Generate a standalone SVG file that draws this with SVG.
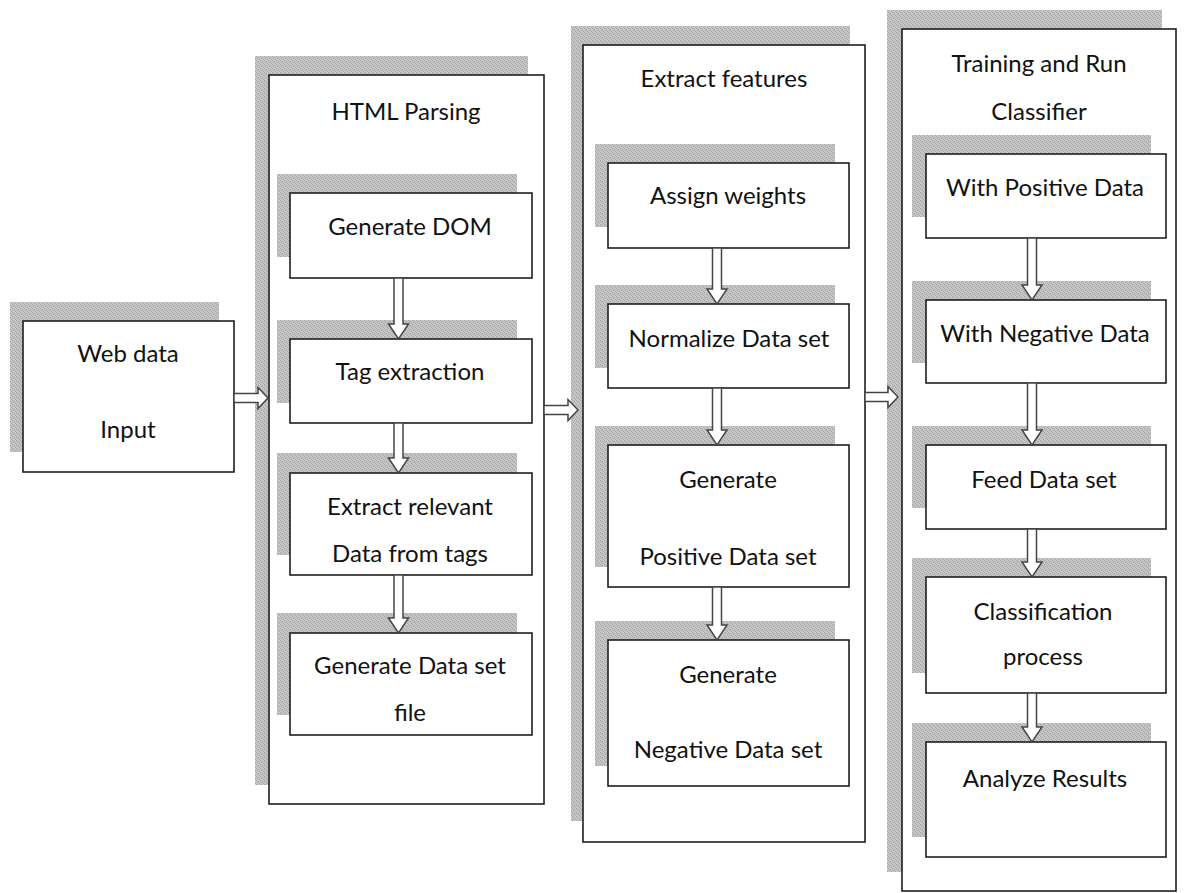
<svg xmlns="http://www.w3.org/2000/svg" width="1185" height="893" viewBox="0 0 1185 893">
<defs>
<pattern id="dots" width="4" height="4" patternUnits="userSpaceOnUse">
<rect width="4" height="4" fill="#c2c2c2"/>
<rect x="0" y="0" width="1" height="1" fill="#a4a4a4"/>
<rect x="2" y="1" width="1" height="1" fill="#a8a8a8"/>
<rect x="1" y="2" width="1" height="1" fill="#b0a8b0"/>
<rect x="3" y="3" width="1" height="1" fill="#a6a6a6"/>
<rect x="3" y="0" width="1" height="1" fill="#d0d0d0"/>
<rect x="1" y="3" width="1" height="1" fill="#cfcfcf"/>
</pattern>
<style>
.sh{fill:url(#dots);stroke:none}
.bx{fill:#fff;stroke:#1e1e1e;stroke-width:1.6}
.t{font-family:Lato,"Open Sans","Liberation Sans",sans-serif;font-size:24px;fill:#111;text-anchor:middle}
.ar{fill:#fff;stroke:#454545;stroke-width:1.5;stroke-linejoin:miter}
</style>
</defs>
<rect width="1185" height="893" fill="#fff"/>

<g id="web-data">
<rect class="sh" x="10" y="302" width="209" height="150"/>
<rect class="bx" x="23" y="321" width="211" height="151"/>
<text class="t" x="128" y="362">Web data</text>
<text class="t" x="128" y="438">Input</text>
</g>

<g id="html-parsing">
<rect class="sh" x="255" y="56" width="273" height="729"/>
<rect class="bx" x="269" y="75" width="275" height="729"/>
<text class="t" x="406" y="120">HTML Parsing</text>
</g>

<g id="extract-features">
<rect class="sh" x="571" y="26" width="279" height="795"/>
<rect class="bx" x="583" y="45" width="282" height="797"/>
<text class="t" x="724" y="87">Extract features</text>
</g>

<g id="training">
<rect class="sh" x="887" y="10" width="275" height="862"/>
<rect class="bx" x="902" y="29" width="274" height="862"/>
<text class="t" x="1039" y="72">Training and Run</text>
<text class="t" x="1039" y="120">Classifier</text>
</g>

<g id="generate-dom">
<rect class="sh" x="277" y="174" width="240" height="83"/>
<rect class="bx" x="290" y="193" width="242" height="85"/>
<text class="t" x="410" y="235">Generate DOM</text>
</g>
<g id="tag-extraction">
<rect class="sh" x="277" y="320" width="240" height="83"/>
<rect class="bx" x="290" y="339" width="242" height="84"/>
<text class="t" x="410" y="380">Tag extraction</text>
</g>
<g id="extract-relevant">
<rect class="sh" x="277" y="453" width="240" height="102"/>
<rect class="bx" x="290" y="473" width="242" height="102"/>
<text class="t" x="410" y="515">Extract relevant</text>
<text class="t" x="410" y="562">Data from tags</text>
</g>
<g id="generate-dataset-file">
<rect class="sh" x="277" y="613" width="240" height="102"/>
<rect class="bx" x="290" y="633" width="242" height="102"/>
<text class="t" x="410" y="674">Generate Data set</text>
<text class="t" x="410" y="721">file</text>
</g>

<g id="assign-weights">
<rect class="sh" x="595" y="144" width="240" height="83"/>
<rect class="bx" x="608" y="163" width="241" height="85"/>
<text class="t" x="728" y="204">Assign weights</text>
</g>
<g id="normalize">
<rect class="sh" x="595" y="285" width="240" height="83"/>
<rect class="bx" x="608" y="304" width="241" height="84"/>
<text class="t" x="729" y="347">Normalize Data set</text>
</g>
<g id="generate-positive">
<rect class="sh" x="595" y="426" width="240" height="141"/>
<rect class="bx" x="608" y="445" width="241" height="142"/>
<text class="t" x="728" y="488">Generate</text>
<text class="t" x="728" y="565">Positive Data set</text>
</g>
<g id="generate-negative">
<rect class="sh" x="595" y="621" width="240" height="145"/>
<rect class="bx" x="608" y="640" width="241" height="146"/>
<text class="t" x="728" y="683">Generate</text>
<text class="t" x="728" y="758">Negative Data set</text>
</g>

<g id="with-positive">
<rect class="sh" x="912" y="135" width="239" height="82"/>
<rect class="bx" x="926" y="154" width="240" height="84"/>
<text class="t" x="1045" y="196">With Positive Data</text>
</g>
<g id="with-negative">
<rect class="sh" x="912" y="281" width="239" height="82"/>
<rect class="bx" x="926" y="300" width="240" height="83"/>
<text class="t" x="1045" y="342">With Negative Data</text>
</g>
<g id="feed-dataset">
<rect class="sh" x="912" y="426" width="239" height="82"/>
<rect class="bx" x="926" y="445" width="240" height="84"/>
<text class="t" x="1044" y="488">Feed Data set</text>
</g>
<g id="classification">
<rect class="sh" x="912" y="558" width="239" height="115"/>
<rect class="bx" x="926" y="577" width="240" height="116"/>
<text class="t" x="1043" y="620">Classification</text>
<text class="t" x="1043" y="665">process</text>
</g>
<g id="analyze-results">
<rect class="sh" x="912" y="723" width="239" height="114"/>
<rect class="bx" x="926" y="742" width="240" height="115"/>
<text class="t" x="1045" y="787">Analyze Results</text>
</g>

<g id="connectors">
<path class="ar" d="M234,393.5 H258 V387.5 L268,398 L258,408.5 V402.5 H234 Z"/>
<path class="ar" d="M544,405.5 H568 V399.5 L578,410 L568,420.5 V414.5 H544 Z"/>
<path class="ar" d="M865,392.5 H888 V386.5 L898,397 L888,407.5 V401.5 H865 Z"/>

<path class="ar" d="M394,278 V324 H388.5 L398.5,339 L408.5,324 H403 V278 Z"/>
<path class="ar" d="M394,423 V458 H388.5 L398.5,473 L408.5,458 H403 V423 Z"/>
<path class="ar" d="M394,575 V618 H388.5 L398.5,633 L408.5,618 H403 V575 Z"/>

<path class="ar" d="M712.5,248 V289 H707 L717,304 L727,289 H721.5 V248 Z"/>
<path class="ar" d="M712.5,388 V430 H707 L717,445 L727,430 H721.5 V388 Z"/>
<path class="ar" d="M712.5,587 V625 H707 L717,640 L727,625 H721.5 V587 Z"/>

<path class="ar" d="M1027.5,238 V285 H1022 L1032,300 L1042,285 H1036.5 V238 Z"/>
<path class="ar" d="M1027.5,383 V430 H1022 L1032,445 L1042,430 H1036.5 V383 Z"/>
<path class="ar" d="M1027.5,529 V562 H1022 L1032,577 L1042,562 H1036.5 V529 Z"/>
<path class="ar" d="M1027.5,693 V727 H1022 L1032,742 L1042,727 H1036.5 V693 Z"/>
</g>
</svg>
